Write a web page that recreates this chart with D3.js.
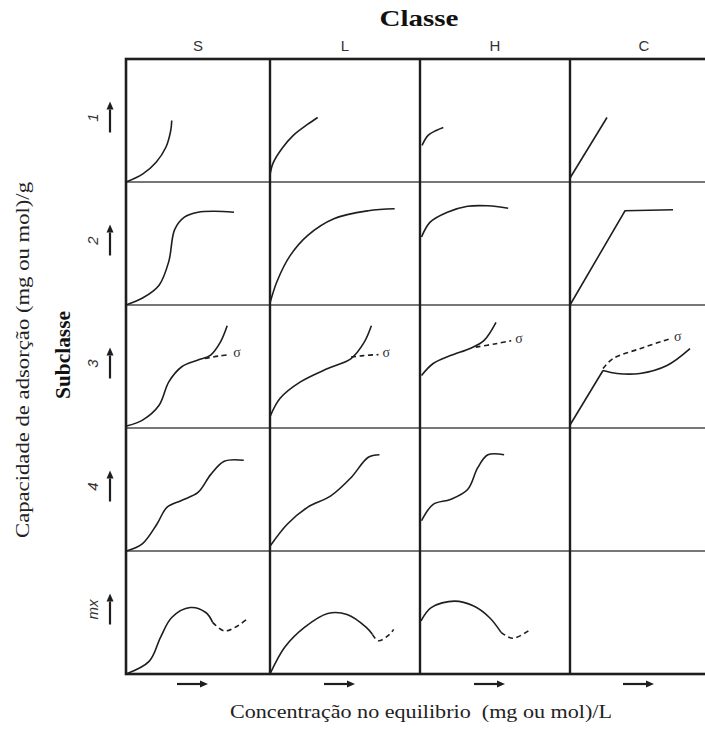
<!DOCTYPE html>
<html>
<head>
<meta charset="utf-8">
<script src="https://cdn.jsdelivr.net/npm/d3@7"></script>
<style>
  html, body { margin: 0; padding: 0; background: #fff; }
  svg { display: block; }
</style>
</head>
<body>
<svg id="chart"></svg>
<script>
// categories
const classes = ["S", "L", "H", "C"];
const subclasses = ["1", "2", "3", "4", "mx"];

// curve shapes (x = concentration, y = capacity, cell units 0..148 / 0..124)
const S1 = [[0, 0], [17, 8], [31, 20], [41, 35], [46, 52], [47, 62]];
const L1 = [[0, 7], [3, 19], [12, 34], [23, 47], [37, 58], [47, 65]];
const H1 = [[2, 37], [8, 47], [16, 52], [23, 55]];
const C1 = [[0, 4], [37, 65]];

const S2 = [[0, 0], [17, 7], [34, 20], [44, 44], [50, 76], [60, 88.5], [74, 93.5], [91, 94.5], [111, 93.5]];
const L2 = [[0, 2], [7, 24], [20, 50], [37, 70], [63, 87], [97, 95], [123, 97]];
const H2 = [[1.5, 68.5], [10, 83.5], [27, 93.5], [47, 99.5], [67, 100], [87, 97.5]];
const C2 = [[0, 0], [55, 95], [103, 96]];

const S3 = [[0.5, 2], [17, 8], [34, 23], [44, 46.5], [57, 61.5], [74, 68.5], [87, 73.5], [97, 86.5], [104, 103]];
const S3sigma = [[81, 70], [95, 72.5], [106, 74]];
const L3 = [[0, 11.5], [10, 30], [30, 46.5], [57, 60], [80, 70], [93, 86.5], [100, 103]];
const L3sigma = [[80, 71.5], [92, 73], [107, 74]];
const H3 = [[1.5, 53], [13, 65], [30, 73], [50, 80.5], [63, 88], [75, 106.5]];
const H3sigma = [[55, 81.5], [75, 85], [90, 88]];
const C3line = [[0, 3], [33, 58]];
const C3 = [[33, 58], [47, 55], [70, 55], [97, 63], [120, 80]];
const C3sigma = [[33, 60], [43, 70], [70, 80], [100, 90]];

const S4 = [[0.5, 0], [17, 7.5], [32, 27.5], [42, 44], [57, 51], [74, 59], [87, 77], [101, 90.5], [121, 91.5]];
const L4 = [[0.5, 5.5], [17, 27], [37, 44], [60, 55.5], [80, 74], [97, 94.5], [108, 97]];
const H4 = [[1.5, 30.5], [13, 47], [30, 52], [47, 62], [57, 84], [67, 97], [83, 97]];

const S5 = [[0, 0], [24, 13], [35.5, 37], [47, 57], [66, 67], [82, 62], [89, 52]];
const S5desorb = [[89, 52], [101, 43.5], [112, 47], [124, 55]];
const L5 = [[0, 0], [14.5, 27], [34, 47], [57, 61], [76, 60], [95, 47], [101, 40]];
const L5desorb = [[101, 40], [107, 33.5], [118, 40], [122, 45]];
const H5 = [[1, 53.5], [11, 67], [34, 73.5], [53, 68.5], [68.5, 57], [80, 42]];
const H5desorb = [[80, 42], [91.5, 36], [107, 43.5]];

// which curve belongs to which cell
const cells = [
  { cls: "S", sub: "1", curves: [{ pts: S1 }] },
  { cls: "L", sub: "1", curves: [{ pts: L1 }] },
  { cls: "H", sub: "1", curves: [{ pts: H1 }] },
  { cls: "C", sub: "1", curves: [{ pts: C1, straight: true }] },
  { cls: "S", sub: "2", curves: [{ pts: S2 }] },
  { cls: "L", sub: "2", curves: [{ pts: L2 }] },
  { cls: "H", sub: "2", curves: [{ pts: H2 }] },
  { cls: "C", sub: "2", curves: [{ pts: C2, straight: true }] },
  { cls: "S", sub: "3", curves: [{ pts: S3 }, { pts: S3sigma, dashed: true, sigma: true }] },
  { cls: "L", sub: "3", curves: [{ pts: L3 }, { pts: L3sigma, dashed: true, sigma: true }] },
  { cls: "H", sub: "3", curves: [{ pts: H3 }, { pts: H3sigma, dashed: true, sigma: true }] },
  { cls: "C", sub: "3", curves: [{ pts: C3line, straight: true }, { pts: C3 }, { pts: C3sigma, dashed: true, sigma: true }] },
  { cls: "S", sub: "4", curves: [{ pts: S4 }] },
  { cls: "L", sub: "4", curves: [{ pts: L4 }] },
  { cls: "H", sub: "4", curves: [{ pts: H4 }] },
  { cls: "S", sub: "mx", curves: [{ pts: S5 }, { pts: S5desorb, dashed: true }] },
  { cls: "L", sub: "mx", curves: [{ pts: L5 }, { pts: L5desorb, dashed: true }] },
  { cls: "H", sub: "mx", curves: [{ pts: H5 }, { pts: H5desorb, dashed: true }] },
];

const width = 705;
const height = 729;
const ink = "#1e1e1e";

const svg = d3.select("#chart")
  .attr("width", width)
  .attr("height", height)
  .attr("viewBox", [0, 0, width, height]);

// grid layout
const colLeft = d3.scaleOrdinal().domain(classes).range([126, 270, 420, 570]);
const colRight = d3.scaleOrdinal().domain(classes).range([270, 420, 570, 718]);
const row = d3.scaleBand().domain(subclasses).range([59, 674]);
const colMid = c => (colLeft(c) + colRight(c)) / 2;

// cell borders
const grid = svg.append("g");
grid.selectAll("line.h")
  .data(d3.range(1, subclasses.length))
  .join("line")
  .attr("x1", 126).attr("x2", 718)
  .attr("y1", i => row(subclasses[i])).attr("y2", i => row(subclasses[i]))
  .attr("stroke", "#4a4a4a")
  .attr("stroke-width", 1.6);
grid.selectAll("line.v")
  .data(classes.slice(1))
  .join("line")
  .attr("x1", c => colLeft(c)).attr("x2", c => colLeft(c))
  .attr("y1", 59).attr("y2", 674)
  .attr("stroke", ink)
  .attr("stroke-width", 2.4);
grid.append("rect")
  .attr("x", 126).attr("y", 59)
  .attr("width", 718 - 126).attr("height", 674 - 59)
  .attr("fill", "none")
  .attr("stroke", ink)
  .attr("stroke-width", 2.6);

// isotherm curves
const smooth = d3.line().curve(d3.curveCatmullRom.alpha(0.5));
const straight = d3.line();

const cellG = svg.append("g")
  .selectAll("g")
  .data(cells)
  .join("g");

cellG.each(function (cell) {
  const g = d3.select(this);
  const x = d3.scaleLinear().domain([0, 148]).range([colLeft(cell.cls), colRight(cell.cls)]);
  const y = d3.scaleLinear().domain([0, 124]).range([row(cell.sub) + row.bandwidth(), row(cell.sub)]);
  cell.curves.forEach(c => {
    const gen = (c.straight ? straight : smooth).x(d => x(d[0])).y(d => y(d[1]));
    g.append("path")
      .attr("d", gen(c.pts))
      .attr("fill", "none")
      .attr("stroke", ink)
      .attr("stroke-width", 1.6)
      .attr("stroke-dasharray", c.dashed ? "5,3.5" : null);
    if (c.sigma) {
      const last = c.pts[c.pts.length - 1];
      g.append("text")
        .attr("x", x(last[0]) + 4)
        .attr("y", y(last[1]) + 2)
        .attr("font-family", "Liberation Serif, serif")
        .attr("font-size", 14)
        .attr("fill", "#333")
        .text("σ");
    }
  });
});

// arrows
function arrow(g, x1, y1, x2, y2) {
  const a = Math.atan2(y2 - y1, x2 - x1);
  const hl = 8, hw = 3.5;
  const bx = x2 - hl * Math.cos(a), by = y2 - hl * Math.sin(a);
  g.append("line")
    .attr("x1", x1).attr("y1", y1).attr("x2", bx).attr("y2", by)
    .attr("stroke", ink).attr("stroke-width", 2.2);
  g.append("path")
    .attr("d", `M${x2},${y2}L${bx - hw * Math.sin(a)},${by + hw * Math.cos(a)}L${bx + hw * Math.sin(a)},${by - hw * Math.cos(a)}Z`)
    .attr("fill", ink);
}

const rowMid = s => row(s) + row.bandwidth() / 2 - 3;

const ann = svg.append("g");
subclasses.forEach(s => {
  arrow(ann, 110, rowMid(s) + 15, 110, rowMid(s) - 16);
  ann.append("text")
    .attr("transform", `translate(98,${rowMid(s)}) rotate(-90)`)
    .attr("text-anchor", "middle")
    .attr("font-family", "Liberation Sans, Arial, sans-serif")
    .attr("font-style", "italic")
    .attr("font-size", 15)
    .attr("fill", "#333")
    .text(s);
});
classes.forEach(c => {
  arrow(ann, colMid(c) - 21, 684, colMid(c) + 10, 684);
  ann.append("text")
    .attr("x", colMid(c))
    .attr("y", 51)
    .attr("text-anchor", "middle")
    .attr("font-family", "Liberation Sans, Arial, sans-serif")
    .attr("font-size", 15)
    .attr("fill", "#333")
    .text(c);
});

// titles
svg.append("text")
  .attr("x", 419).attr("y", 26)
  .attr("text-anchor", "middle")
  .attr("font-family", "Liberation Serif, serif")
  .attr("font-weight", "bold")
  .attr("font-size", 24)
  .attr("textLength", 79)
  .attr("lengthAdjust", "spacingAndGlyphs")
  .attr("fill", "#111")
  .text("Classe");

svg.append("text")
  .attr("transform", "translate(70,355) rotate(-90)")
  .attr("text-anchor", "middle")
  .attr("font-family", "Liberation Serif, serif")
  .attr("font-weight", "bold")
  .attr("font-size", 21)
  .attr("textLength", 88)
  .attr("lengthAdjust", "spacingAndGlyphs")
  .attr("fill", "#111")
  .text("Subclasse");

svg.append("text")
  .attr("transform", "translate(29,360) rotate(-90)")
  .attr("text-anchor", "middle")
  .attr("font-family", "Liberation Serif, serif")
  .attr("font-size", 19)
  .attr("textLength", 356)
  .attr("lengthAdjust", "spacingAndGlyphs")
  .attr("fill", "#222")
  .text("Capacidade de adsorção (mg ou mol)/g");

svg.append("text")
  .attr("x", 421).attr("y", 718)
  .attr("text-anchor", "middle")
  .attr("font-family", "Liberation Serif, serif")
  .attr("font-size", 19)
  .attr("textLength", 382)
  .attr("lengthAdjust", "spacingAndGlyphs")
  .attr("fill", "#222")
  .attr("xml:space", "preserve")
  .text("Concentração no equilibrio  (mg ou mol)/L");
</script>
</body>
</html>
